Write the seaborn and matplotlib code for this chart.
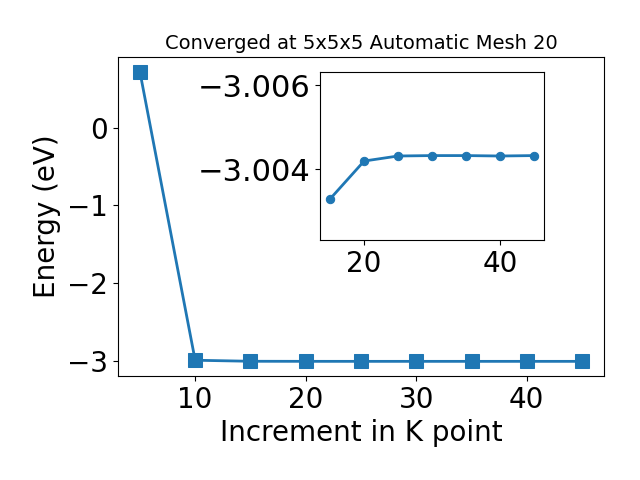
import matplotlib
matplotlib.use("Agg")
import matplotlib.pyplot as plt
import seaborn as sns
import pandas as pd

# k-point increments and converged energies (eV)
kpoints = [5, 10, 15, 20, 25, 30, 35, 40, 45]
energy = [0.72, -2.99, -3.00329, -3.00419, -3.00431, -3.00432, -3.00432, -3.00431, -3.00432]

data = pd.DataFrame({'k': kpoints, 'E': energy})
inset = data[data['k'] >= 15]

fig = plt.figure(figsize=(6.4, 4.8), dpi=100)
ax = fig.add_axes([0.184, 0.217, 0.76, 0.664])
sns.lineplot(x='k', y='E', data=data, ax=ax, marker='s', markersize=10,
             linewidth=2, color='#1f77b4', markeredgecolor='#1f77b4')
ax.set_xlabel('Increment in K point', fontsize=20)
ax.set_ylabel('Energy (eV)', fontsize=20)
ax.set_title('Converged at 5x5x5 Automatic Mesh 20', fontsize=14)
ax.tick_params(labelsize=20)

# zoomed-in view of the converged region
ax2 = fig.add_axes([0.5, 0.5, 0.35, 0.35])
sns.lineplot(x='k', y='E', data=inset, ax=ax2, marker='o', markersize=6,
             linewidth=2, color='#1f77b4', markeredgecolor='#1f77b4')
ax2.set_ylim(-3.00231, -3.00631)
ax2.set_yticks([-3.006, -3.004])
ax2.set_xticks([20, 40])
ax2.set_xlabel('')
ax2.set_ylabel('')
ax2.tick_params(axis='x', labelsize=20)
ax2.tick_params(axis='y', labelsize=22)

fig.savefig('out.png', dpi=100)
